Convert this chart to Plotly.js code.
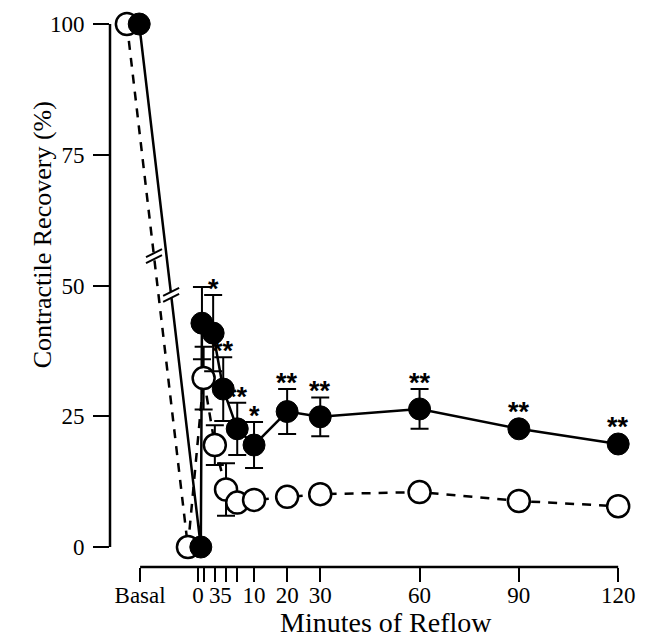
<!DOCTYPE html>
<html>
<head>
<meta charset="utf-8">
<script src="https://cdn.plot.ly/plotly-3.0.1.min.js"></script>
<style>html,body{margin:0;padding:0;background:#fff;}#chart{width:647px;height:641px;}</style>
</head>
<body>
<div id="chart"></div>
<script>
// ---- data (minutes of reflow; "Basal" sits left of 0) ----
const tickMinutes = [-10.34, 0, 1, 3, 5, 7, 10, 20, 30, 60, 90, 120];
const tickLabels  = ['Basal', '0', '', '3', '5', '', '10', '20', '30', '60', '90', '120'];
const yTicks      = [0, 25, 50, 75, 100];

const filledMinutes = [-10.5, 0.5, 0.7, 2.7, 4.5, 7, 10, 20, 30, 60, 90, 120];
const filledValues  = [100, 0, 42.8, 40.9, 30.2, 22.6, 19.5, 25.9, 24.9, 26.4, 22.6, 19.7];
const filledSE      = [0, 0, 6.9, 7.3, 6.1, 5.0, 4.4, 4.3, 3.7, 3.8, 1, 1];
const filledSig     = ['', '', '', '*', '**', '**', '*', '**', '**', '**', '**', '**'];

const openMinutes = [-12.7, -1.8, 1, 3, 5, 7, 10, 20, 30, 60, 90, 120];
const openValues  = [100, 0, 32.3, 19.5, 11, 8.5, 9, 9.6, 10.1, 10.5, 8.8, 7.8];
const openSE      = [0, 0, 6, 3.8, 5, 1, 1, 1, 1, 1, 1, 1];

// axis break marks: fraction of the way from the Basal point to the 0 point
const openBreakFrac = 0.444;
const filledBreakFrac = 0.518;

// ---- axis transform: first 10 minutes are stretched ----
const EARLY = 1.692;
function u(t) { return t <= 10 ? t * EARLY : 10 * EARLY + (t - 10); }

const PX_PER_Y = 543 / 103.82;
const MARKER_R = 11;

const FONT = '"Liberation Serif", "Times New Roman", serif';

// filled line drawn first (underneath), open series, then filled markers on top
const filledLine = {
  x: filledMinutes.map(u), y: filledValues, type: 'scatter', mode: 'lines',
  line: {color: '#000', width: 2.5}, cliponaxis: false, hoverinfo: 'skip'
};
const openTrace = {
  x: openMinutes.map(u), y: openValues, type: 'scatter', mode: 'lines+markers',
  line: {color: '#000', width: 2.5, dash: '9px,8px'},
  marker: {size: 22, color: '#fff', line: {color: '#000', width: 2.5}},
  error_y: {type: 'data', array: openSE, visible: true, thickness: 2, width: 9, color: '#000'},
  cliponaxis: false, hoverinfo: 'skip'
};
const filledMarkers = {
  x: filledMinutes.map(u), y: filledValues, type: 'scatter', mode: 'markers',
  marker: {size: 22, color: '#000', line: {color: '#000', width: 1}},
  error_y: {type: 'data', array: filledSE, visible: true, thickness: 2, width: 9, color: '#000'},
  cliponaxis: false, hoverinfo: 'skip'
};

// significance stars
const annotations = [];
filledSig.forEach((s, i) => {
  if (!s) return;
  const topPx = Math.max(filledSE[i] * PX_PER_Y, MARKER_R);
  annotations.push({
    x: u(filledMinutes[i]), y: filledValues[i], xref: 'x', yref: 'y',
    text: s, showarrow: false, yanchor: 'middle', xanchor: 'center',
    yshift: topPx + 6,
    font: {family: '"Liberation Sans", Arial, sans-serif', size: 27, color: '#000', weight: 'bold'}
  });
});
annotations.push({
  xref: 'paper', yref: 'paper', x: -0.1295, y: 0.611, xanchor: 'center', yanchor: 'middle',
  text: 'Contractile Recovery (%)', textangle: -90, showarrow: false,
  font: {family: FONT, size: 26, color: '#000'}
});
annotations.push({
  xref: 'paper', yref: 'paper', x: 0.526, y: -0.1345, xanchor: 'center', yanchor: 'bottom',
  text: 'Minutes of Reflow', showarrow: false,
  font: {family: FONT, size: 28, color: '#000'}
});

// axis lines + break marks
const shapes = [
  {type: 'line', xref: 'paper', yref: 'y', x0: 0, x1: 0, y0: 0, y1: 100, line: {color: '#000', width: 2.5}},
  {type: 'line', xref: 'x', yref: 'paper', x0: u(tickMinutes[0]), x1: u(120), y0: 0, y1: 0, line: {color: '#000', width: 2.5}}
];
function addBreak(xs, ys, f) {
  const xa = u(xs[0]) + (u(xs[1]) - u(xs[0])) * f;
  const ya = ys[0] + (ys[1] - ys[0]) * f;
  const common = {type: 'path', xref: 'x', yref: 'y', xsizemode: 'pixel', ysizemode: 'pixel', xanchor: xa, yanchor: ya};
  shapes.push(Object.assign({}, common, {path: 'M-8,-7 L8,1 L8,7 L-8,-1 Z', fillcolor: '#fff', line: {width: 0}}));
  shapes.push(Object.assign({}, common, {path: 'M-8,-1 L8,7 M-8,-7 L8,1', line: {color: '#000', width: 2}}));
}
addBreak(openMinutes, openValues, openBreakFrac);
addBreak(filledMinutes, filledValues, filledBreakFrac);

const layout = {
  width: 647, height: 641,
  margin: {l: 110, r: 12, t: 24, b: 74},
  paper_bgcolor: '#fff', plot_bgcolor: '#fff',
  showlegend: false,
  xaxis: {
    range: [-26.59, 132.0], tickmode: 'array', tickvals: tickMinutes.map(u), ticktext: tickLabels,
    ticks: 'outside', ticklen: 14, tickwidth: 2, tickcolor: '#000', tickangle: 0,
    showgrid: false, zeroline: false, showline: false, ticklabelstandoff: -7,
    tickfont: {family: FONT, size: 23, color: '#000'}
  },
  yaxis: {
    range: [-3.82, 100], tickmode: 'array', tickvals: yTicks,
    ticks: 'outside', ticklen: 16, tickwidth: 2, tickcolor: '#000',
    showgrid: false, zeroline: false, showline: false, ticklabelstandoff: 4,
    tickfont: {family: FONT, size: 23, color: '#000'}
  },
  annotations: annotations,
  shapes: shapes
};

Plotly.newPlot('chart', [filledLine, openTrace, filledMarkers], layout, {staticPlot: true});
</script>
</body>
</html>
